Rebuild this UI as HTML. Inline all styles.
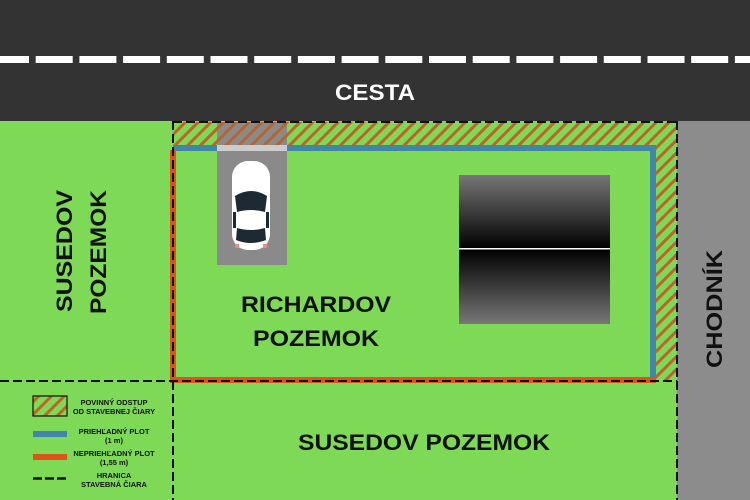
<!DOCTYPE html>
<html><head><meta charset="utf-8"><style>
html,body{margin:0;padding:0;width:750px;height:500px;overflow:hidden;background:#7ed957}
svg{display:block}
text{font-family:"Liberation Sans",sans-serif;font-weight:bold;fill:#111}
</style></head><body>
<svg width="750" height="500" viewBox="0 0 750 500" xmlns="http://www.w3.org/2000/svg">
<defs>
<pattern id="h" patternUnits="userSpaceOnUse" width="9" height="9" patternTransform="rotate(45)">
<rect width="9" height="9" fill="#7ed957"/><rect width="3" height="9" fill="#c0632a"/>
</pattern>
<pattern id="hg" patternUnits="userSpaceOnUse" width="9" height="9" patternTransform="rotate(45)">
<rect width="9" height="9" fill="#8a8a8a"/><rect width="3" height="9" fill="#b5652f"/>
</pattern>
<linearGradient id="g1" x1="0" y1="0" x2="0" y2="1"><stop offset="0" stop-color="#777"/><stop offset="1" stop-color="#000"/></linearGradient>
<linearGradient id="g2" x1="0" y1="0" x2="0" y2="1"><stop offset="0" stop-color="#000"/><stop offset="1" stop-color="#777"/></linearGradient>
</defs>
<rect width="750" height="500" fill="#7ed957"/>
<rect x="0" y="0" width="750" height="121" fill="#333"/>
<line x1="-8" y1="59.5" x2="750" y2="59.5" stroke="#fff" stroke-width="7" stroke-dasharray="37 6.7"/>
<text x="335" y="100" font-size="22" textLength="80" lengthAdjust="spacingAndGlyphs" style="fill:#fff">CESTA</text>
<rect x="677" y="121" width="73" height="379" fill="#8c8c8c"/>
<text transform="translate(722,368) rotate(-90)" font-size="22" textLength="118" lengthAdjust="spacingAndGlyphs">CHODNÍK</text>
<rect x="173" y="122" width="504" height="24" fill="url(#h)"/>
<rect x="651" y="122" width="26" height="259" fill="url(#h)"/>
<rect x="217" y="122" width="70" height="24" fill="url(#hg)"/>
<rect x="217" y="146" width="70" height="119" fill="#8a8a8a"/>
<rect x="217" y="145" width="70" height="6" fill="#ccc"/>
<rect x="173" y="145" width="44" height="6" fill="#3f86a8"/>
<rect x="287" y="145" width="369" height="6" fill="#3f86a8"/>
<rect x="650" y="145" width="6" height="236" fill="#3f86a8"/>
<rect x="170" y="150" width="6" height="233" fill="#e0521b"/>
<rect x="170" y="377" width="486" height="6" fill="#e0521b"/>
<g stroke="#111" stroke-width="2" fill="none" stroke-dasharray="9 4">
<line x1="173" y1="121" x2="173" y2="500"/>
<line x1="0" y1="381" x2="677" y2="381"/>
<line x1="173" y1="122" x2="677" y2="122"/>
<line x1="677" y1="121" x2="677" y2="500"/>
</g>
<g>
<rect x="232" y="161" width="38" height="89" rx="16" fill="#fff"/>
<path d="M235 196 Q251 186 267 196 L265 212 Q251 208 237 212Z" fill="#1e2a33"/>
<path d="M237 228 Q251 232 265 228 L266 240 Q251 246 236 240Z" fill="#1e2a33"/>
<rect x="233" y="212" width="3" height="16" fill="#1e2a33"/>
<rect x="266" y="212" width="3" height="16" fill="#1e2a33"/>
<rect x="235" y="244" width="4" height="4" fill="#e88" />
<rect x="263" y="244" width="4" height="4" fill="#e88" />
</g>
<rect x="459" y="175" width="151" height="74" fill="url(#g1)"/>
<rect x="459" y="249" width="151" height="75" fill="url(#g2)"/>
<rect x="459" y="248" width="151" height="1.5" fill="#fff"/>
<text x="241" y="312" font-size="22" textLength="150" lengthAdjust="spacingAndGlyphs">RICHARDOV</text>
<text x="253" y="346" font-size="22" textLength="126" lengthAdjust="spacingAndGlyphs">POZEMOK</text>
<text x="298" y="450" font-size="22" textLength="252" lengthAdjust="spacingAndGlyphs">SUSEDOV POZEMOK</text>
<text transform="translate(72,312) rotate(-90)" font-size="22" textLength="122" lengthAdjust="spacingAndGlyphs">SUSEDOV</text>
<text transform="translate(106,314) rotate(-90)" font-size="22" textLength="124" lengthAdjust="spacingAndGlyphs">POZEMOK</text>
<rect x="33" y="396" width="34" height="20" fill="url(#h)" stroke="#111" stroke-width="1.2"/>
<rect x="33" y="431" width="34" height="6" fill="#3f86a8"/>
<rect x="33" y="454" width="34" height="6" fill="#e0521b"/>
<line x1="33" y1="478.5" x2="67" y2="478.5" stroke="#111" stroke-width="2.5" stroke-dasharray="9 3"/>
<g font-size="7.5" text-anchor="middle">
<text x="114" y="405">POVINNÝ ODSTUP</text>
<text x="114" y="414">OD STAVEBNEJ ČIARY</text>
<text x="114" y="434">PRIEHĽADNÝ PLOT</text>
<text x="114" y="443">(1 m)</text>
<text x="114" y="456">NEPRIEHĽADNÝ PLOT</text>
<text x="114" y="465">(1,55 m)</text>
<text x="114" y="478">HRANICA</text>
<text x="114" y="487">STAVEBNÁ ČIARA</text>
</g>
</svg>
</body></html>
